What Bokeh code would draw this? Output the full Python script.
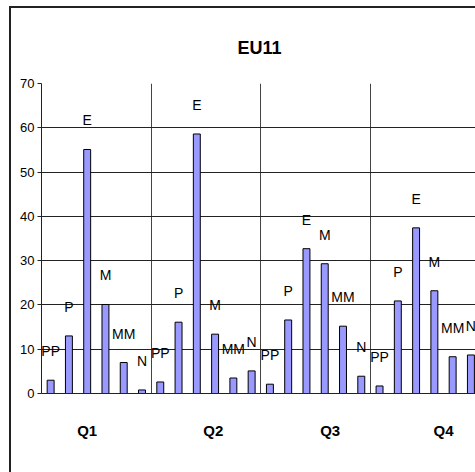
from bokeh.plotting import figure
from bokeh.models import ColumnDataSource, FixedTicker, Range1d, Grid
from bokeh.core.properties import value
from bokeh.embed import file_html
from bokeh.resources import INLINE

# Quarterly shares by segment
quarters = ["Q1", "Q2", "Q3", "Q4"]
segments = ["PP", "P", "E", "M", "MM", "N"]
q1 = [3.0, 13.0, 55.1, 20.1, 7.0, 0.8]
q2 = [2.6, 16.1, 58.6, 13.4, 3.5, 5.1]
q3 = [2.1, 16.6, 32.7, 29.3, 15.2, 3.9]
q4 = [1.7, 20.9, 37.4, 23.2, 8.3, 8.7]
y_ticks = [0, 10, 20, 30, 40, 50, 60, 70]

FONT = "'Liberation Sans', Arial, sans-serif"
n_seg = len(segments)

xs, ys, labels = [], [], []
for gi, vals in enumerate([q1, q2, q3, q4]):
    for si, v in enumerate(vals):
        xs.append(gi * n_seg + si + 0.5)
        ys.append(v)
        labels.append(segments[si])
src = ColumnDataSource(dict(x=xs, top=ys, label=labels))

p = figure(width=466, height=466, output_backend="svg", toolbar_location=None,
           x_range=Range1d(0, 23.86), y_range=Range1d(0, 70),
           min_border_left=30, min_border_right=0, min_border_top=75,
           min_border_bottom=81, title="EU11")
# chart area border on the left and top of the page
p.margin = (6, 0, 0, 9)
p.styles = {"border-left": "2px solid #222222", "border-top": "2px solid #222222"}
p.outline_line_color = None
p.background_fill_color = "white"
p.border_fill_color = "white"

p.title.align = "center"
p.title.text_font = FONT
p.title.text_font_size = "18px"
p.title.text_font_style = "bold"
p.title.text_color = "black"
p.title.offset = -11
p.title.standoff = 51

p.vbar(x="x", top="top", width=0.38, bottom=0, source=src,
       fill_color="#9999FF", line_color="#000000", line_width=1)
p.text(x="x", y="top", text="label", source=src, text_font=value(FONT),
       text_font_size="14px", text_align="center", text_baseline="middle",
       y_offset=-29, text_color="black")

# axes
p.yaxis.ticker = FixedTicker(ticks=y_ticks)
p.yaxis.major_label_text_font = FONT
p.yaxis.major_label_text_font_size = "13px"
p.yaxis.major_label_text_color = "black"
p.yaxis.axis_line_color = "#222222"
p.yaxis.major_tick_line_color = "#222222"
p.yaxis.major_tick_out = 4
p.yaxis.major_tick_in = 0
p.yaxis.minor_tick_line_color = None
p.yaxis.major_label_standoff = 3

p.xaxis.ticker = FixedTicker(ticks=[2.5, 9.4, 15.8, 22.0])
p.xaxis.major_label_overrides = {2.5: "Q1", 9.4: "Q2", 15.8: "Q3", 22.0: "Q4"}
p.xaxis.major_label_text_font = FONT
p.xaxis.major_label_text_font_size = "15px"
p.xaxis.major_label_text_font_style = "bold"
p.xaxis.major_label_text_color = "black"
p.xaxis.axis_line_color = "#222222"
p.xaxis.major_tick_line_color = None
p.xaxis.minor_tick_line_color = None
p.xaxis.major_label_standoff = 22

# grids: dark horizontal lines, quarter separators, light top edge
p.ygrid.ticker = FixedTicker(ticks=y_ticks[1:-1])
p.ygrid.grid_line_color = "#222222"
p.xgrid.ticker = FixedTicker(ticks=[6, 12, 18])
p.xgrid.grid_line_color = "#444444"
p.add_layout(Grid(dimension=1, ticker=FixedTicker(ticks=[70]),
                  grid_line_color="#a8a8a8", grid_line_width=2))

open("out.html", "w").write(file_html(p, INLINE))
